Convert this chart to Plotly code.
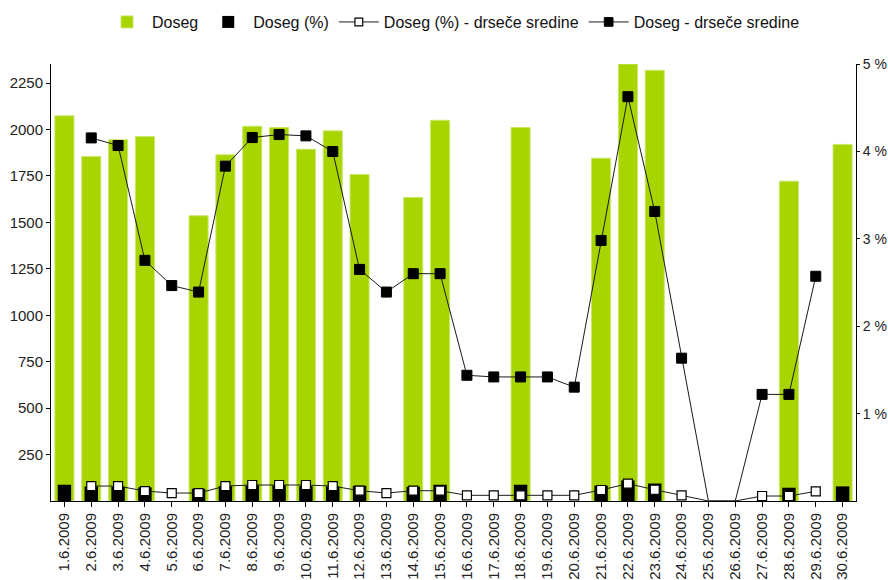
import plotly.graph_objects as go

dates = ["1.6.2009", "2.6.2009", "3.6.2009", "4.6.2009", "5.6.2009", "6.6.2009",
         "7.6.2009", "8.6.2009", "9.6.2009", "10.6.2009", "11.6.2009", "12.6.2009",
         "13.6.2009", "14.6.2009", "15.6.2009", "16.6.2009", "17.6.2009", "18.6.2009",
         "19.6.2009", "20.6.2009", "21.6.2009", "22.6.2009", "23.6.2009", "24.6.2009",
         "25.6.2009", "26.6.2009", "27.6.2009", "28.6.2009", "29.6.2009", "30.6.2009"]

doseg = [2074, 1855, 1945, 1962, None, 1536, 1864, 2018, 2011, 1894,
         1993, 1758, None, 1634, 2050, None, None, 2011, None, None,
         1846, 2353, 2319, None, None, None, None, 1722, None, 1920]

doseg_pct = [0.186, 0.165, 0.163, 0.156, None, 0.14, 0.17, 0.18, 0.18, 0.17,
             0.165, 0.175, None, 0.163, 0.186, None, None, 0.186, None, None,
             0.175, 0.235, 0.2, None, None, None, None, 0.152, None, 0.167]

doseg_ma = [None, 1955, 1914, 1296, 1160, 1125, 1803, 1957, 1973, 1966,
            1882, 1247, 1125, 1224, 1224, 677, 668, 668, 668, 613,
            1403, 2177, 1559, 769, 0, 0, 574, 574, 1210, None]

doseg_pct_ma = [None, 0.171, 0.171, 0.114, 0.091, 0.091, 0.171, 0.183, 0.183, 0.183,
                0.171, 0.118, 0.091, 0.118, 0.118, 0.065, 0.065, 0.065, 0.065, 0.065,
                0.126, 0.198, 0.129, 0.065, 0, 0, 0.057, 0.057, 0.111, None]

left_ticks = [250, 500, 750, 1000, 1250, 1500, 1750, 2000, 2250]
right_ticks = [1, 2, 3, 4, 5]
right_ticktext = ["1 %", "2 %", "3 %", "4 %", "5 %"]

GREEN = "#A8D400"
FONT = "Liberation Sans, Arial, sans-serif"

def msize(vals, s):
    return [s if (v is not None and v > 0) else 0 for v in vals]

fig = go.Figure()
fig.add_trace(go.Bar(x=dates, y=doseg, name="Doseg", width=0.71,
                     marker=dict(color=GREEN, line=dict(color="#C9E86A", width=1)),
                     yaxis="y"))
fig.add_trace(go.Bar(x=dates, y=doseg_pct, name="Doseg (%)", width=0.5,
                     marker=dict(color="#000000", line=dict(width=0)),
                     yaxis="y2"))
fig.add_trace(go.Scatter(x=dates, y=doseg_pct_ma, name="Doseg (%) - drseče sredine",
                         mode="lines+markers", yaxis="y2",
                         line=dict(color="#1a1a1a", width=1),
                         marker=dict(symbol="square", size=msize(doseg_pct_ma, 9), opacity=1,
                                     color="#FFFFFF", line=dict(color="#000000", width=1.2))))
fig.add_trace(go.Scatter(x=dates, y=doseg_ma, name="Doseg - drseče sredine",
                         mode="lines+markers", yaxis="y",
                         line=dict(color="#1a1a1a", width=1),
                         marker=dict(symbol="square", size=msize(doseg_ma, 10), opacity=1,
                                     color="#000000", line=dict(color="#000000", width=1))))

fig.update_layout(
    width=888, height=580,
    margin=dict(l=51, r=32, t=64, b=79, autoexpand=False),
    paper_bgcolor="white", plot_bgcolor="white",
    barmode="overlay",
    font=dict(family=FONT, size=15, color="#222222"),
    showlegend=True,
    legend=dict(orientation="h", x=0.5, xanchor="center",
                yref="container", y=0.962, yanchor="middle",
                font=dict(size=16, color="#111111"), itemclick=False, itemwidth=40,
                traceorder="normal", tracegroupgap=0),
    xaxis=dict(type="category", range=[-0.5, 29.5], tickangle=-90,
               showline=True, linecolor="#000000", linewidth=1,
               ticks="outside", ticklen=5, tickcolor="#000000",
               showgrid=False, zeroline=False, automargin=False,
               tickfont=dict(size=15, color="#222222")),
    yaxis=dict(range=[0, 2353], tickvals=left_ticks,
               showline=True, linecolor="#000000", linewidth=1,
               ticks="outside", ticklen=4, tickcolor="#000000",
               showgrid=False, zeroline=False, automargin=False,
               tickfont=dict(size=15, color="#222222")),
    yaxis2=dict(range=[0, 5], tickvals=right_ticks, ticktext=right_ticktext,
                overlaying="y", side="right",
                showline=True, linecolor="#000000", linewidth=1,
                ticks="outside", ticklen=3, tickcolor="#000000",
                showgrid=False, zeroline=False, automargin=False,
                tickfont=dict(size=14, color="#222222")),
)

# remove the default page margin so the 888x580 figure fills the window exactly
fig.write_html("out.html", config={"displayModeBar": False},
               post_script="document.body.style.margin='0';document.body.style.overflow='hidden';")
